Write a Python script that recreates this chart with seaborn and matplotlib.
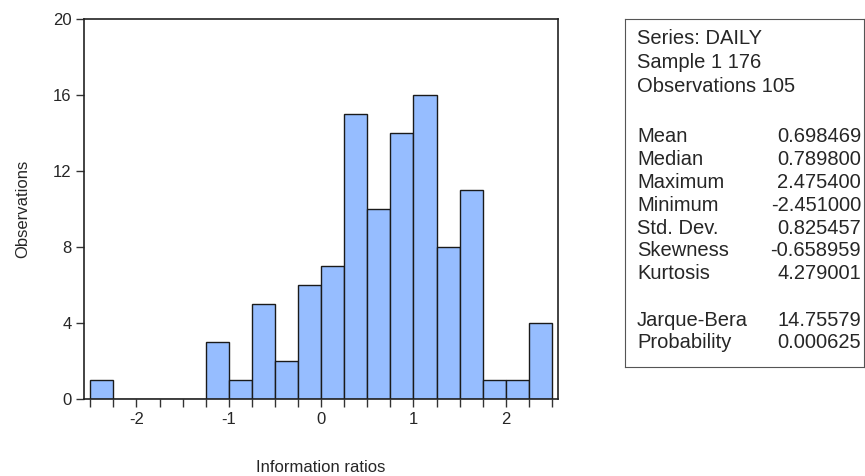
import numpy as np
import pandas as pd
import matplotlib
matplotlib.use("Agg")
import matplotlib.pyplot as plt
import seaborn as sns

# histogram bins (width 0.25) and counts
bin_edges = [round(-2.5 + 0.25 * i, 2) for i in range(21)]
counts = [1, 0, 0, 0, 0, 3, 1, 5, 2, 6, 7, 15, 10, 14, 16, 8, 11, 1, 1, 4]
bin_centers = [(a + b) / 2 for a, b in zip(bin_edges[:-1], bin_edges[1:])]

stat_names = ["Mean", "Median", "Maximum", "Minimum", "Std. Dev.", "Skewness", "Kurtosis"]
stat_values = ["0.698469", "0.789800", "2.475400", "-2.451000", "0.825457", "-0.658959", "4.279001"]
test_names = ["Jarque-Bera", "Probability"]
test_values = ["14.75579", "0.000625"]
header = ["Series: DAILY", "Sample 1 176", "Observations 105"]

df = pd.DataFrame({"x": bin_centers, "n": counts})

sns.set_style("ticks")
plt.rcParams["font.family"] = ["Liberation Sans", "DejaVu Sans"]
plt.rcParams["axes.unicode_minus"] = False

fig = plt.figure(figsize=(8.65, 4.76), dpi=100)
ax = fig.add_axes([84 / 865, 1 - 399 / 476, 474 / 865, 380 / 476])

sns.histplot(data=df, x="x", weights="n", bins=bin_edges, ax=ax,
             color="#96bdff", alpha=1, edgecolor="#1a1a1a", linewidth=1)

ax.set_xlim(-2.568, 2.565)
ax.set_ylim(0, 20)
ax.set_xticks([-2, -1, 0, 1, 2])
ax.set_xticks(bin_edges, minor=True)
ax.set_yticks([0, 4, 8, 12, 16, 20])
ax.tick_params(axis="both", which="major", labelsize=12, length=6, width=1,
               direction="out", color="#333333", pad=3)
ax.tick_params(axis="x", which="minor", length=6, width=1, direction="out", color="#333333")
for s in ax.spines.values():
    s.set_linewidth(1.2)
    s.set_color("#222222")
ax.set_xlabel("Information ratios", fontsize=12, labelpad=24)
ax.set_ylabel("Observations", fontsize=12, labelpad=16)

# stats box
bx = fig.add_axes([625 / 865, 1 - 367 / 476, 239 / 865, 348 / 476])
bx.set_xticks([])
bx.set_yticks([])
for s in bx.spines.values():
    s.set_linewidth(0.8)
    s.set_color("#555555")
bx.set_xlim(0, 239)
bx.set_ylim(348, 0)

fs = 14.5
for i, line in enumerate(header):
    bx.text(12, 19 + 24 * i, line, fontsize=fs, va="center", ha="left")
for i, (name, val) in enumerate(zip(stat_names, stat_values)):
    y = 118 + 22.8 * i
    bx.text(12, y, name, fontsize=fs, va="center", ha="left")
    bx.text(236, y, val, fontsize=fs, va="center", ha="right")
for i, (name, val) in enumerate(zip(test_names, test_values)):
    y = 301 + 23 * i
    bx.text(12, y, name, fontsize=fs, va="center", ha="left")
    bx.text(236, y, val, fontsize=fs, va="center", ha="right")

fig.savefig("out.png", dpi=100)
